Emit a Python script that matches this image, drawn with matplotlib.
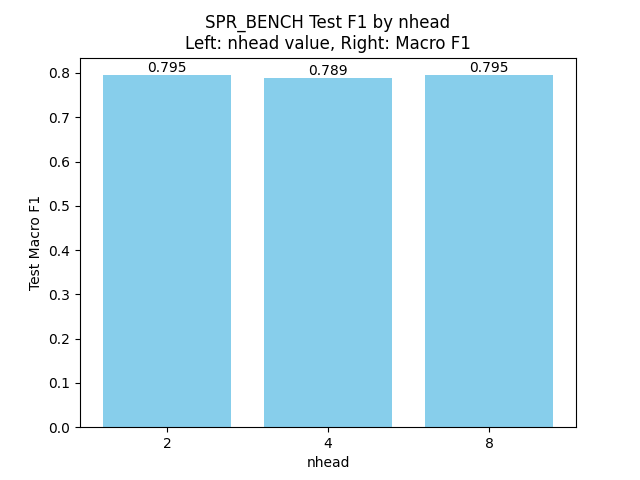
import matplotlib
matplotlib.use("Agg")
import matplotlib.pyplot as plt

nheads = ["2", "4", "8"]
f1_scores = [0.795, 0.789, 0.795]

fig, ax = plt.subplots(figsize=(6.4, 4.8), dpi=100)
bars = ax.bar(nheads, f1_scores, color="skyblue")
for b, v in zip(bars, f1_scores):
    ax.text(b.get_x() + b.get_width() / 2, v, f"{v:.3f}", ha="center", va="bottom")
ax.set_xlabel("nhead")
ax.set_ylabel("Test Macro F1")
ax.set_title("SPR_BENCH Test F1 by nhead\nLeft: nhead value, Right: Macro F1")
fig.savefig("out.png")
